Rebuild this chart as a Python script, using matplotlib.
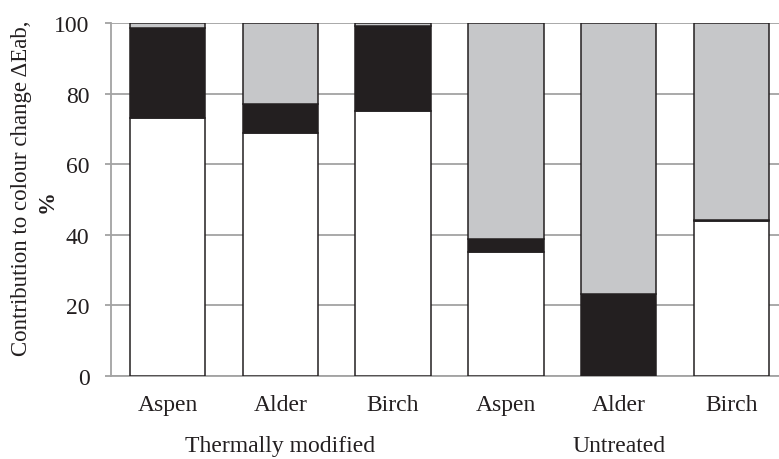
import numpy as np
import matplotlib
matplotlib.use("Agg")
from matplotlib import pyplot as plt
import matplotlib.transforms as mtransforms

plt.rcParams['font.family'] = ['Liberation Serif', 'DejaVu Serif']

# data
species = ["Aspen", "Alder", "Birch", "Aspen", "Alder", "Birch"]
groups = ["Thermally modified", "Untreated"]
white_part = [73.2, 68.7, 75.0, 35.0, 0.0, 43.8]
black_part = [25.4, 8.4, 24.2, 3.9, 23.3, 0.5]
grey_part = [1.4, 22.9, 0.8, 61.1, 76.7, 55.7]

grid_col = "#a3a3a3"
edge_col = "#231f20"

fig = plt.figure(figsize=(7.79, 4.6), dpi=100)
ax = fig.add_axes([111/779, 83/460, 668/779, 353/460])

x = np.arange(len(species))
w = 0.667
white_part = np.array(white_part)
black_part = np.array(black_part)
grey_part = np.array(grey_part)

ax.bar(x, white_part, w, color="white", edgecolor=edge_col, linewidth=1.1, zorder=3)
ax.bar(x, black_part, w, bottom=white_part, color=edge_col, edgecolor=edge_col, linewidth=1.1, zorder=3)
ax.bar(x, grey_part, w, bottom=white_part + black_part, color="#c6c7c9", edgecolor=edge_col, linewidth=1.1, zorder=3)

ax.set_ylim(0, 100)
ax.set_xlim(-0.5, 5.42)
ax.set_yticks([0, 20, 40, 60, 80, 100])
ax.set_xticks(x)
ax.set_xticklabels(species)
ax.yaxis.grid(True, color=grid_col, linewidth=1.3, zorder=0)
ax.set_axisbelow(True)

for s in ["top", "right"]:
    ax.spines[s].set_visible(False)
ax.spines["left"].set_color(grid_col)
ax.spines["left"].set_linewidth(1.3)
ax.spines["bottom"].set_color(grid_col)
ax.spines["bottom"].set_linewidth(1.3)

ax.tick_params(axis="y", length=4.5, width=1.3, color=grid_col, pad=11, labelsize=17, labelcolor="#231f20")
ax.tick_params(axis="x", length=0, pad=13, labelsize=17, labelcolor="#231f20")

# group labels below the species names
trans = mtransforms.blended_transform_factory(ax.transData, ax.transAxes)
ax.text(1, -0.198, groups[0], transform=trans, ha="center", va="center", fontsize=17, color="#231f20")
ax.text(4, -0.198, groups[1], transform=trans, ha="center", va="center", fontsize=17, color="#231f20")

# y label in two lines, the % bold
fig.text(22/779, 1 - 188/460, "Contribution to colour change ΔEab,", rotation=90,
         ha="center", va="center", fontsize=16.5, color="#231f20")
fig.text(47/779, 1 - 202/460, "%", rotation=90, ha="center", va="center",
         fontsize=16.5, fontweight="bold", color="#231f20")

fig.savefig("out.png", dpi=100)
